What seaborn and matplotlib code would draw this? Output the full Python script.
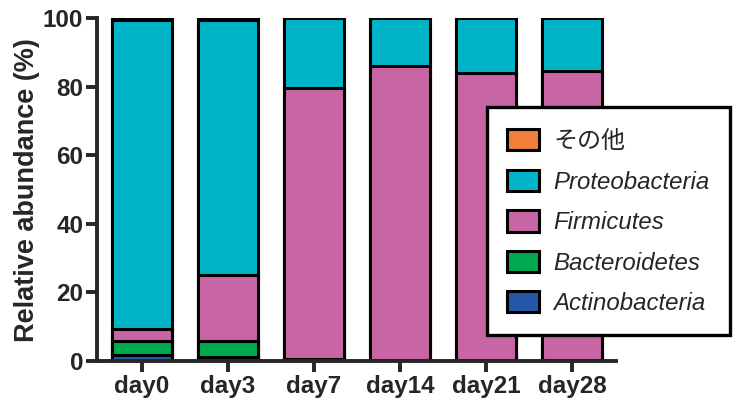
import numpy as np
import pandas as pd
import seaborn as sns
import matplotlib.pyplot as plt
from matplotlib.patches import Patch

days = ["day0", "day3", "day7", "day14", "day21", "day28"]
actinobacteria = [1.7, 1.2, 0.3, 0.1, 0.1, 0.1]
bacteroidetes = [4.2, 4.7, 0.4, 0.1, 0.1, 0.1]
firmicutes = [3.5, 19.2, 79.0, 85.8, 83.8, 84.3]
proteobacteria = [90.1, 74.4, 20.2, 14.0, 16.0, 15.5]
others = [0.5, 0.5, 0.1, 0.0, 0.0, 0.0]

taxa = ["Actinobacteria", "Bacteroidetes", "Firmicutes", "Proteobacteria", "その他"]
colors = ["#2458a6", "#00a84f", "#c866a5", "#00b4c8", "#f07f3a"]

df = pd.DataFrame({
    "day": days,
    "Actinobacteria": actinobacteria,
    "Bacteroidetes": bacteroidetes,
    "Firmicutes": firmicutes,
    "Proteobacteria": proteobacteria,
    "その他": others,
})

sns.set_style("ticks")
plt.rcParams["font.family"] = ["Liberation Sans", "Noto Sans CJK JP"]

fig = plt.figure(figsize=(7.47, 4.03), dpi=100)
ax = fig.add_axes([0.130, 0.104, 0.6946, 0.851])

# stacked bars: draw cumulative totals from the top layer down
cum = df[taxa].cumsum(axis=1)
for name, col in zip(taxa[::-1], colors[::-1]):
    sns.barplot(x=df["day"], y=cum[name], color=col, width=0.70,
                edgecolor="black", linewidth=2.2, saturation=1, ax=ax)

ax.set_ylim(0, 100)
ax.set_xlim(-0.52, 5.51)
ax.set_yticks([0, 20, 40, 60, 80, 100])
ax.set_xlabel("")
ax.set_ylabel("Relative abundance (%)", fontsize=19.5, fontweight="bold", labelpad=2)
sns.despine(ax=ax)
for s in ["left", "bottom"]:
    ax.spines[s].set_linewidth(2.8)
ax.tick_params(axis="both", width=2.8, length=8, labelsize=17.5, pad=2)
for lab in ax.get_xticklabels() + ax.get_yticklabels():
    lab.set_fontweight("bold")

handles = [Patch(facecolor=c, edgecolor="black", linewidth=2.2) for c in colors[::-1]]
leg = fig.legend(handles, taxa[::-1], loc="upper left",
                 bbox_to_anchor=(0.652, 0.734), fontsize=17.3, frameon=True,
                 fancybox=False, edgecolor="black", framealpha=1,
                 handlelength=1.3, handleheight=1.0, labelspacing=0.68,
                 borderpad=0.85, handletextpad=0.6, borderaxespad=0)
leg.get_frame().set_linewidth(2.4)
for i, t in enumerate(leg.get_texts()):
    if i == 0:
        t.set_family(["Noto Sans CJK JP", "Liberation Sans"])
    else:
        t.set_fontstyle("italic")

fig.savefig("out.png", dpi=100)
